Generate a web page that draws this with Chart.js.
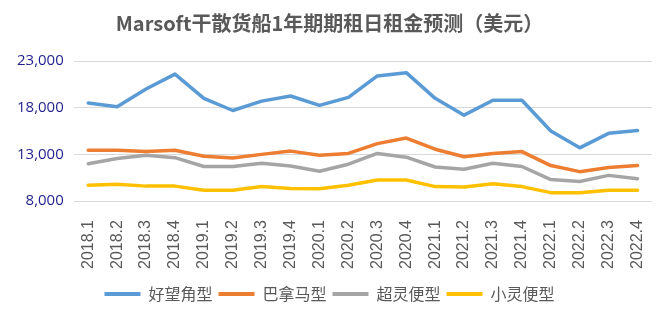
<!DOCTYPE html>
<html>
<head>
<meta charset="utf-8">
<script src="https://cdn.jsdelivr.net/npm/chart.js@4/dist/chart.umd.min.js"></script>
<style>
    html, body { margin: 0; padding: 0; background: #fff; }
    #wrap { width: 672px; height: 322px; }
</style>
</head>
<body>
<div id="wrap"><canvas id="rentChart" width="672" height="322"></canvas></div>
<script>
// ============ DATA ============
const quarters = [
    '2018.1', '2018.2', '2018.3', '2018.4',
    '2019.1', '2019.2', '2019.3', '2019.4',
    '2020.1', '2020.2', '2020.3', '2020.4',
    '2021.1', '2021.2', '2021.3', '2021.4',
    '2022.1', '2022.2', '2022.3', '2022.4'
];
const capesize = [18500, 18100, 20000, 21600, 19000, 17700, 18700, 19250, 18250, 19100,
                  21400, 21750, 19000, 17200, 18800, 18800, 15500, 13700, 15250, 15550];
const panamax = [13450, 13430, 13300, 13450, 12800, 12600, 13000, 13350, 12900, 13100,
                 14150, 14750, 13550, 12750, 13100, 13300, 11800, 11150, 11600, 11800];
const supramax = [12000, 12550, 12900, 12650, 11700, 11700, 12050, 11750, 11200, 11950,
                  13100, 12700, 11650, 11400, 12050, 11700, 10300, 10100, 10750, 10400];
const handysize = [9700, 9800, 9600, 9600, 9150, 9150, 9550, 9350, 9330, 9700,
                   10250, 10250, 9550, 9500, 9850, 9550, 8900, 8900, 9150, 9150];
const yTicks = [8000, 13000, 18000, 23000];

const seriesNames = ['好望角型', '巴拿马型', '超灵便型', '小灵便型'];
const seriesColors = ['#5B9BD5', '#ED7D31', '#A5A5A5', '#FFC000'];
const seriesData = [capesize, panamax, supramax, handysize];

// ============ LINE CHART ============
function makeDataset(i) {
    return {
        label: seriesNames[i],
        data: seriesData[i],
        borderColor: seriesColors[i],
        backgroundColor: seriesColors[i],
        borderWidth: 3.5,
        borderJoinStyle: 'round',
        borderCapStyle: 'round',
        pointRadius: 0,
        tension: 0
    };
}

const ctx = document.getElementById('rentChart');
new Chart(ctx.getContext('2d'), {
    type: 'line',
    data: {
        labels: quarters,
        datasets: seriesData.map((_, i) => makeDataset(i))
    },
    options: {
        responsive: false,
        animation: false,
        layout: { padding: { left: 7, right: 20, top: 0, bottom: 10 } },
        plugins: {
            title: {
                display: true,
                text: 'Marsoft干散货船1年期期租日租金预测（美元）',
                color: '#595959',
                font: { family: '"Noto Sans CJK SC", "Liberation Sans", sans-serif', size: 20, weight: 'bold' },
                padding: { top: 11, bottom: 26 }
            },
            legend: {
                position: 'bottom',
                labels: {
                    color: '#595959',
                    font: { family: '"Noto Sans CJK SC", sans-serif', size: 16 },
                    boxWidth: 36,
                    boxHeight: 4,
                    padding: 6,
                    generateLabels(chart) {
                        return Chart.defaults.plugins.legend.labels.generateLabels(chart).map(item => {
                            item.fillStyle = seriesColors[item.datasetIndex];
                            item.lineWidth = 0;
                            item.strokeStyle = 'rgba(0,0,0,0)';
                            return item;
                        });
                    }
                }
            },
            tooltip: { enabled: false }
        },
        scales: {
            x: {
                offset: true,
                grid: { display: false },
                border: { display: false },
                ticks: {
                    color: '#595959',
                    font: { family: '"Liberation Sans", Arial, sans-serif', size: 16 },
                    minRotation: 90,
                    maxRotation: 90,
                    autoSkip: false,
                    padding: 11
                }
            },
            y: {
                min: 8000,
                max: 23000,
                afterBuildTicks(axis) {
                    axis.ticks = yTicks.map(v => ({ value: v }));
                },
                grid: { color: '#D9D9D9', lineWidth: 1, drawTicks: false },
                border: { display: false },
                ticks: {
                    color: '#1F1F8F',
                    font: { family: '"Open Sans", sans-serif', size: 15 },
                    padding: 10,
                    callback: v => v.toLocaleString('en-US')
                }
            }
        }
    }
});
</script>
</body>
</html>
